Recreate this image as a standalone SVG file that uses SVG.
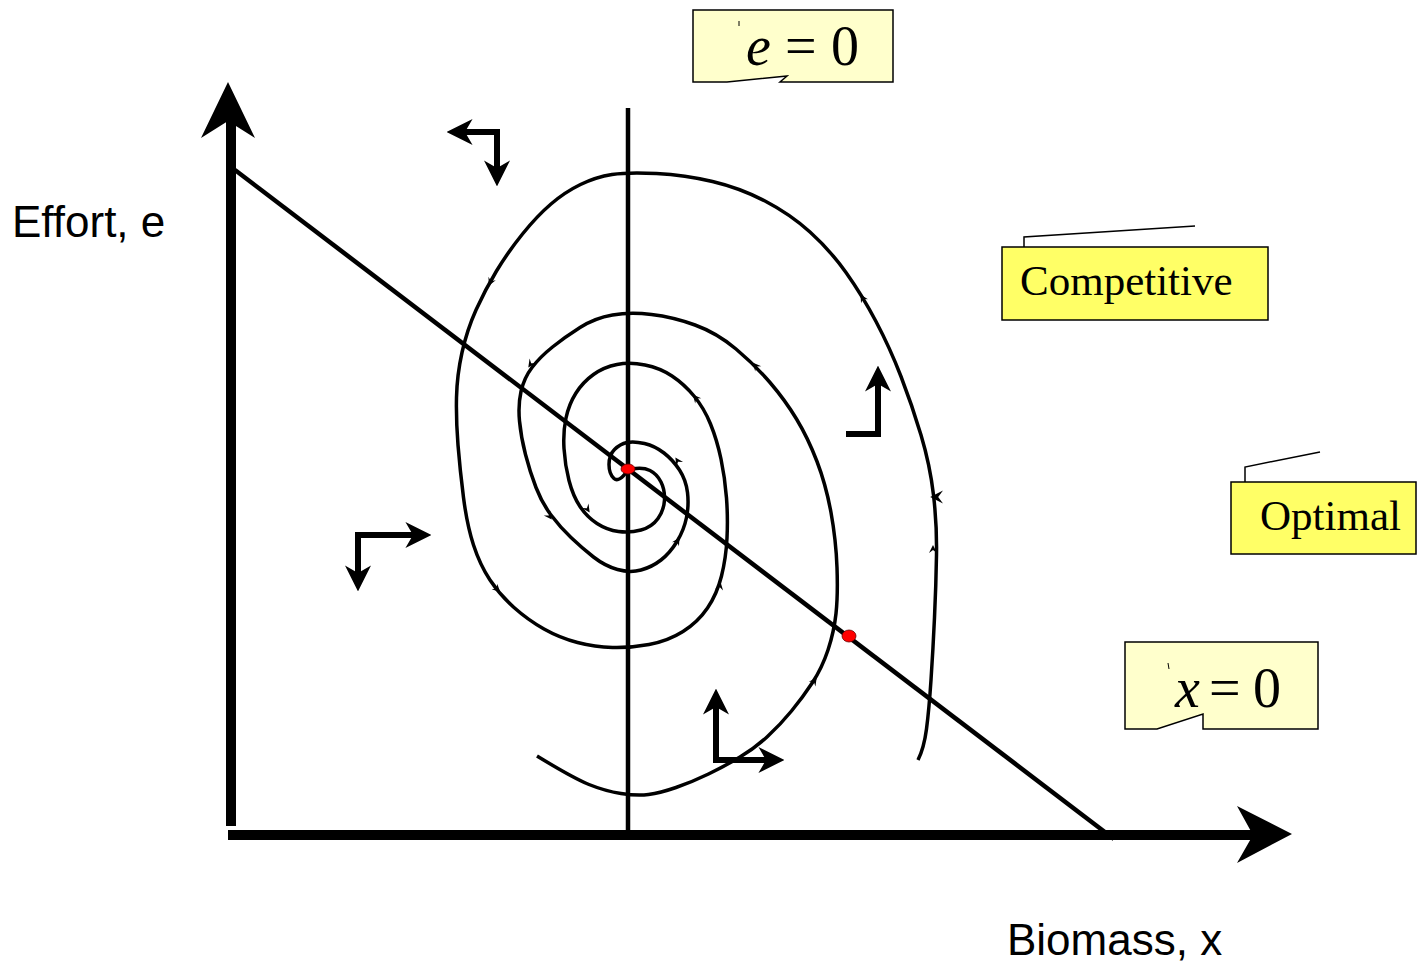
<svg xmlns="http://www.w3.org/2000/svg" width="1417" height="963" viewBox="0 0 1417 963">
<style>
.ax{stroke:#000;stroke-width:10;fill:none}
.ln{stroke:#000;stroke-width:4.5;fill:none}
.cv{stroke:#000;stroke-width:3.5;fill:none}
.dir{stroke:#000;stroke-width:6;fill:none;stroke-linejoin:miter;marker-start:url(#ah);marker-end:url(#ah)}
.dir1{stroke:#000;stroke-width:6;fill:none;stroke-linejoin:miter;marker-end:url(#ah)}
.box1{fill:#FFFFCC;stroke:#000;stroke-width:1.5}
.box2{fill:#FFFF66;stroke:#000;stroke-width:1.5}
.lead{fill:none;stroke:#000;stroke-width:1.5}
.math{font-family:"Liberation Serif","Times New Roman",serif;font-size:56px;fill:#000}
.lbl{font-family:"Liberation Serif","Times New Roman",serif;font-size:43px;fill:#000}
.axl{font-family:"Liberation Sans",Arial,sans-serif;font-size:44px;fill:#000}
.dot{fill:#FF0000;stroke:#600;stroke-width:0.8}
</style>
<defs>
<marker id="ah" markerUnits="userSpaceOnUse" markerWidth="26" markerHeight="26" refX="7" refY="12" orient="auto-start-reverse" viewBox="0 0 24 24">
<path d="M0,0 L24,12 L0,24 L7,12 Z" fill="#000"/>
</marker>
<path id="tick" d="M-5,-4 L3,0 L-5,4 L-2,0 Z" fill="#000"/>
</defs>
<g id="connectors">
<line class="ax" x1="231" y1="120" x2="231" y2="826"/>
<polygon points="228,82 255,138 228,121 201,138" fill="#000"/>
<line class="ax" x1="228" y1="835" x2="1255" y2="835"/>
<polygon points="1292,834 1237,863 1253,835 1237,806" fill="#000"/>
<line class="ln" x1="235" y1="170" x2="1114" y2="839"/>
<line class="ln" x1="628" y1="108" x2="628" y2="831"/>
<path class="cv" d="M918,760 Q924,748 926.5,729 T931,680 T934.5,617.5 T936.5,555 T933.5,495 T921,435 T901,376.5 T876,321.5 T846,272.5 T810,232 T765,201 T712.5,181.5 T656.5,173.5 T612,174.5 T580.5,184.5 T551,204 T522.5,234 T496.5,271 T476,310 T462,352.5 T456.5,397.5 T458,445 T463.5,497.5 T473.5,545 T490,580 T514,607.5 T544,629 T577.5,642.5 T612.5,647.5 T649,644.5 T683,631.5 T707.5,608 T721.5,576 T727,538 T726.5,498 T721,459 T710.5,424 T694,396 T672,376 T645,365 T617,364.5 T593.5,374.5 T576,393 T566,418 T564,448.5 T569,480.5 T580,506.5 T597,523.5 T618.5,531.5 T641,530 T658,518.5 T664.5,500 T661,482 T650,470.5 T632,469"/>
<path class="cv" d="M628,470 Q619,483 614,478.5 T609,464.5 T614.5,449.5 T627,442.5 T644.5,443.5 T664,453 T679.5,470 T687.5,492.5 T686.5,517.5 T677,541.5 T661,560 T641,570 T617.5,569.5 T593.5,557 T571,537.5 T551,515 T536,487.5 T525.5,454.5 T519.5,421 T521,391.5 T532,367.5 T552.5,347 T580,327.5 T612.5,315 T651.5,314.5 T695,325 T736,349 T770,382.5 T796.5,419 T817,461.5 T831,512.5 T837,567.5 T836,613.5 T828,650 T812.5,682.5 T791.5,711 T767.5,736.5 T740,757 T708.5,774 T676,787.5 T648.5,794.5 T621,793.5 T589,784.5 T537,756"/>
<use href="#tick" transform="translate(490,283) rotate(115)"/>
<use href="#tick" transform="translate(862,297) rotate(-120)"/>
<use href="#tick" transform="translate(935,497) rotate(180) scale(1.6)"/>
<use href="#tick" transform="translate(933,548) rotate(-90)"/>
<use href="#tick" transform="translate(498,590) rotate(45)"/>
<use href="#tick" transform="translate(720,585) rotate(-80)"/>
<use href="#tick" transform="translate(678,540) rotate(-60)"/>
<use href="#tick" transform="translate(815,680) rotate(-55)"/>
<use href="#tick" transform="translate(530,365) rotate(125)"/>
<use href="#tick" transform="translate(550,517) rotate(53)"/>
<use href="#tick" transform="translate(588,510) rotate(56)"/>
<use href="#tick" transform="translate(695,397) rotate(-130)"/>
<use href="#tick" transform="translate(677,460) rotate(-123)"/>
<use href="#tick" transform="translate(755,365) rotate(-130)"/>
<path class="dir" d="M465,132 L497,132 L497,168"/>
<path class="dir1" d="M846,434 L878,434 L878,384"/>
<path class="dir" d="M413,535 L358,535 L358,573"/>
<path class="dir" d="M716,707 L716,760 L766,760"/>
<ellipse class="dot" cx="628" cy="469" rx="7" ry="5"/>
<ellipse class="dot" cx="849" cy="636" rx="7" ry="6"/>
</g>
<g id="node-e0">
<path class="box1" d="M693,10 H893 V82 H780 L787,76 L727,82 H693 Z"/>
<line x1="739" y1="21" x2="739" y2="26" stroke="#000" stroke-width="1"/>
<text class="math" x="746" y="65" font-style="italic">e</text>
<text class="math" x="785" y="65">=</text>
<text class="math" x="831" y="65">0</text>
</g>
<g id="node-competitive">
<polyline class="lead" points="1024,247 1024,237 1195,226"/>
<rect class="box2" x="1002" y="247" width="266" height="73"/>
<text class="lbl" x="1020" y="295">Competitive</text>
</g>
<g id="node-optimal">
<polyline class="lead" points="1245,482 1245,467 1320,452"/>
<rect class="box2" x="1231" y="482" width="185" height="72"/>
<text class="lbl" x="1260" y="530">Optimal</text>
</g>
<g id="node-x0">
<path class="box1" d="M1125,642 H1318 V729 H1203 V714 L1157,729 H1125 Z"/>
<line x1="1168" y1="663" x2="1169" y2="669" stroke="#000" stroke-width="1"/>
<text class="math" x="1175" y="707" font-style="italic">x</text>
<text class="math" x="1209" y="707">=</text>
<text class="math" x="1253" y="707">0</text>
</g>
<g id="label-effort">
<text class="axl" x="12" y="237">Effort, e</text>
</g>
<g id="label-biomass">
<text class="axl" x="1007" y="955">Biomass, x</text>
</g>
</svg>
